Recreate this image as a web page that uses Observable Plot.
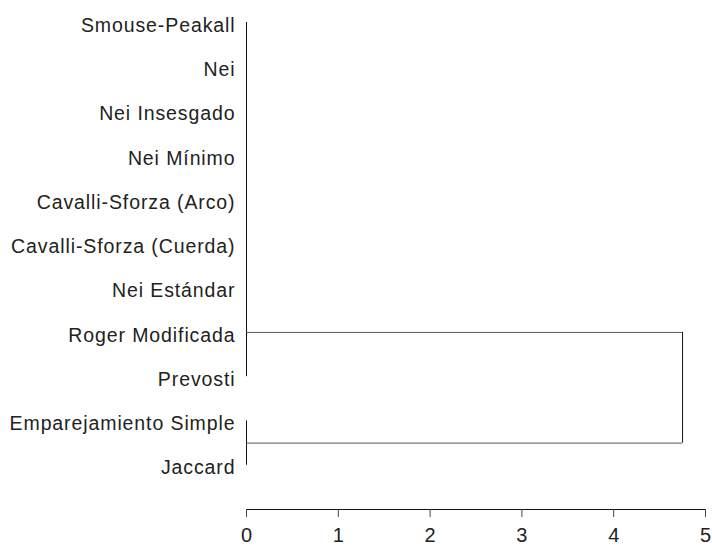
<!DOCTYPE html>
<html>
<head>
<meta charset="utf-8">
<script src="https://cdn.jsdelivr.net/npm/d3@7"></script>
<script src="https://cdn.jsdelivr.net/npm/@observablehq/plot@0.6"></script>
<style>
  html, body { margin: 0; padding: 0; background: #fff; overflow: hidden; }
  #chart svg { display: block; }
  .leaf text { letter-spacing: 0.9px; }
</style>
</head>
<body>
<div id="chart"></div>
<script>
// Leaves of the dendrogram, top to bottom
const leaves = [
  "Smouse-Peakall",
  "Nei",
  "Nei Insesgado",
  "Nei Mínimo",
  "Cavalli-Sforza (Arco)",
  "Cavalli-Sforza (Cuerda)",
  "Nei Estándar",
  "Roger Modificada",
  "Prevosti",
  "Emparejamiento Simple",
  "Jaccard"
];
// Clusters: first and last leaf row, fusion height, row where the branch leaves the cluster
const clusterFirst = [0, 9];
const clusterLast = [8, 10];
const clusterHeight = [0, 0];
const clusterBranchRow = [7, 9.5];
// Final merge of the two clusters
const mergeHeight = 4.75;
// Distance axis ticks
const xTicks = [0, 1, 2, 3, 4, 5];
const axisRow = 11;

const leafData = leaves.map((name, i) => ({name, row: i}));
const clusters = clusterFirst.map((f, i) => ({
  first: f, last: clusterLast[i], h: clusterHeight[i], branch: clusterBranchRow[i]
}));

const chart = Plot.plot({
  width: 712,
  height: 546,
  marginLeft: 246,
  marginRight: 7,
  marginTop: 22,
  marginBottom: 37,
  style: {fontFamily: "'Liberation Sans', Arial, sans-serif", color: "#222", background: "#fff"},
  x: {domain: [0, 5], label: null},
  y: {domain: [0, axisRow], reverse: true, axis: null, label: null},
  marks: [
    // cluster vertical lines
    Plot.ruleX(clusters, {x: "h", y1: "first", y2: "last", stroke: "#111", strokeWidth: 1}),
    // branches from clusters to merge height
    Plot.ruleY(clusters, {y: "branch", x1: "h", x2: () => mergeHeight, stroke: "#555", strokeWidth: 1}),
    // merge vertical line
    Plot.ruleX([mergeHeight], {y1: clusterBranchRow[0], y2: clusterBranchRow[1], stroke: "#111", strokeWidth: 1}),
    // axis baseline
    Plot.ruleY([axisRow], {x1: xTicks[0], x2: xTicks[xTicks.length - 1], stroke: "#111"}),
    Plot.axisX(xTicks, {anchor: "bottom", label: null, tickSize: 8, tickPadding: 10, fontSize: 20, stroke: "#444", fill: "#222"}),
    // leaf labels
    Plot.text(leafData, {
      x: () => 0, y: "row", text: "name", textAnchor: "end", dx: -11, dy: 3,
      fontSize: 19.5, fill: "#222", className: "leaf"
    })
  ]
});
document.getElementById("chart").appendChild(chart);
</script>
</body>
</html>
